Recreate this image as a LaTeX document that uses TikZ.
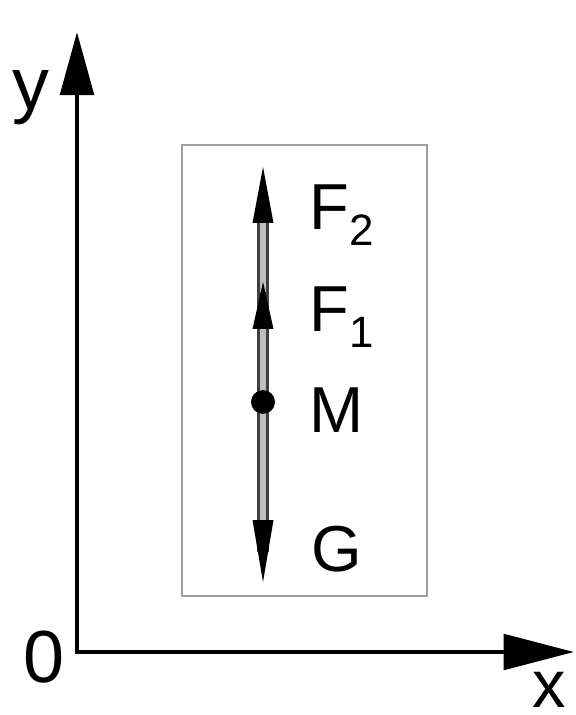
\documentclass[tikz,border=0pt]{standalone}
\usepackage{fontspec}
\setmainfont{Liberation Sans}
\usepackage{tikz}
\usetikzlibrary{positioning, arrows.meta, calc}
\newcommand{\lowsub}[1]{\raisebox{-9pt}{\fontsize{25}{25}\selectfont #1}}

\begin{document}
\begin{tikzpicture}[
      x=0.02cm, y=-0.02cm,
      lbl/.style={font=\fontsize{37}{37}\selectfont, inner sep=0pt, anchor=base west},
      axlbl/.style={font=\fontsize{42}{42}\selectfont, inner sep=0pt, anchor=base west},
      axis/.style={line width=2.8pt, {Triangle[length=36pt, width=19pt]}-{Triangle[length=40pt, width=20pt]}},
      frame/.style={draw=gray!75, line width=1.1pt},
      shaft/.style={line width=6.4pt, black!75},
      core/.style={line width=3.2pt, gray!50},
      dot/.style={circle, fill=black, inner sep=0pt, minimum size=13.5pt}
    ]
    \useasboundingbox (0,0) rectangle (575,715);
    %% axes
    \coordinate (O) at (77,652);
    \coordinate (ytip) at (77,32);
    \coordinate (xtip) at (574,652);
    \draw[axis] (ytip) -- (O) -- (xtip);
    \node[axlbl] (ylab) at (12,110) {y};
    \node[axlbl] (olab) at (23,682) {0};
    \node[axlbl, font=\fontsize{38}{38}\selectfont] (xlab) at (532,707) {x};
    %% frame
    \draw[frame] (182,145) rectangle (427,596);
    %% forces on M
    \node[dot] (M) at (263,402) {};
    \coordinate (f2) at (263,167);
    \coordinate (f1) at (263,282);
    \coordinate (g) at (263,582);
    \draw[shaft] ($(g)+(0,-30)$) -- ($(f2)+(0,30)$);
    \draw[core] ($(g)+(0,-60)$) -- ($(f1)+(0,44)$);
    \draw[core] ($(f1)+(0,10)$) -- ($(f2)+(0,53)$);
    \fill (f2) -- ++(-10.5,56) -- ++(21,0) -- cycle;
    \fill (f1) -- ++(-10.5,47) -- ++(21,0) -- cycle;
    \fill (g) -- ++(-10.5,-62) -- ++(21,0) -- cycle;
    \node[dot] at (M) {};
    %% labels
    \node[lbl] (lF2) at (309,230) {F\lowsub{2}};
    \node[lbl] (lF1) at (309,332) {F\lowsub{1}};
    \node[lbl] (lM) at (309,432) {M};
    \node[lbl] (lG) at (311,571) {G};
\end{tikzpicture}
\end{document}
